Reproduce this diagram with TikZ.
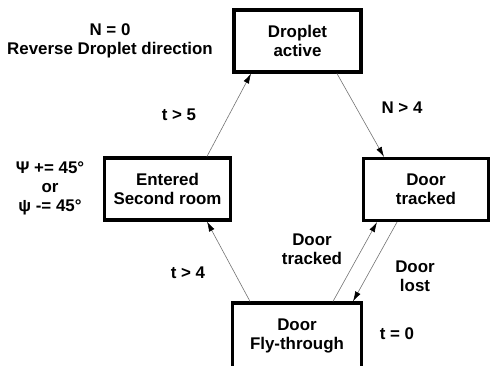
\documentclass[tikz,border=0pt]{standalone}
\usepackage{fontspec}
\setmainfont{Liberation Sans}
\usetikzlibrary{arrows.meta}
\begin{document}
\begin{tikzpicture}[x=1pt,y=-1pt,
  every node/.style={font=\bfseries\fontsize{16.9}{19}\selectfont, align=center, inner sep=0pt},
  state/.style={draw=black, line width=3.2pt, fill=white, minimum width=#1, minimum height=62pt},
  conn/.style={draw=black!55, line width=0.6pt, -{Latex[length=10pt,width=6pt,black]}},
  lbl/.style={}]
\useasboundingbox (0,0) rectangle (492,366);
\node[state=127pt] (droplet) at (297.5,41) {Droplet\\active};
\node[state=125pt] (tracked) at (426,189.5) {Door\\tracked};
\node[state=126pt] (entered) at (167.5,189) {Entered\\Second room};
\node[state=129pt, minimum height=65pt] (fly) at (297,335.5) {Door\\Fly-through};

\node[lbl] (n0) at (110,41) {N = 0\\Reverse Droplet direction};
\node[lbl] (t5) at (179,115) {t > 5};
\node[lbl] (n4) at (402,108) {N > 4};
\node[lbl] (psi) at (50,188) {Ψ += 45°\\or\\ψ -= 45°};
\node[lbl] (t4) at (188,273) {t > 4};
\node[lbl] (dtr) at (312,249.5) {Door\\tracked};
\node[lbl] (dlost) at (415,276) {Door\\lost};
\node[lbl] (t0) at (397,334) {t = 0};

\draw[conn] ([xshift=39.5pt]entered.north) -- ([xshift=-46.5pt]droplet.south);
\draw[conn] ([xshift=39.5pt]droplet.south) -- ([xshift=-42pt]tracked.north);
\draw[conn] ([xshift=-47pt]fly.north) -- ([xshift=39.5pt]entered.south);
\draw[conn] ([xshift=36pt]fly.north) -- ([xshift=-49pt]tracked.south);
\draw[conn] ([xshift=-29pt]tracked.south) -- ([xshift=56pt]fly.north);
\end{tikzpicture}
\end{document}
